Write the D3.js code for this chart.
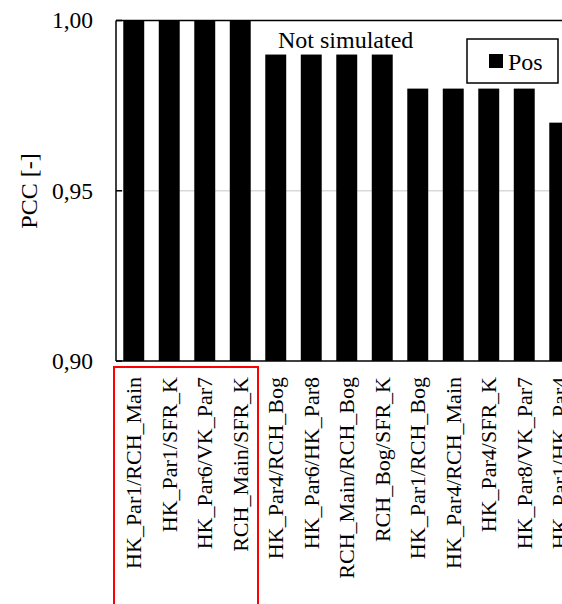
<!DOCTYPE html>
<html>
<head>
<meta charset="utf-8">
<script src="https://cdn.jsdelivr.net/npm/d3@7"></script>
<style>
  body { margin: 0; background: #fff; overflow: hidden; }
  text { font-family: "Liberation Serif", "Times New Roman", serif; fill: #000; }
</style>
</head>
<body>
<script>
const categories = ["HK_Par1/RCH_Main", "HK_Par1/SFR_K", "HK_Par6/VK_Par7", "RCH_Main/SFR_K",
    "HK_Par4/RCH_Bog", "HK_Par6/HK_Par8", "RCH_Main/RCH_Bog", "RCH_Bog/SFR_K",
    "HK_Par1/RCH_Bog", "HK_Par4/RCH_Main", "HK_Par4/SFR_K", "HK_Par8/VK_Par7", "HK_Par1/HK_Par4"]
const posValues = [1.00, 1.00, 1.00, 1.00, 0.99, 0.99, 0.99, 0.99, 0.98, 0.98, 0.98, 0.98, 0.97]
const yTicks = [0.90, 0.95, 1.00]

const margin = { top: 20.5, left: 116 }
const height = 340.5
const step = 35.5

const svg = d3.select('body')
    .append('svg')
    .attr('width', 562)
    .attr('height', 604)

const g = svg.append('g')
    .attr("transform", `translate(${margin.left},${margin.top})`)

// x scale runs past the right edge (chart is cropped)
const x = d3.scaleBand()
    .domain(categories)
    .range([0, step * categories.length])
    .paddingInner(0.41)
    .paddingOuter(0.205)

const y = d3.scaleLinear()
    .domain([0.90, 1.00])
    .range([height, 0])

// gridline
g.selectAll('.grid')
    .data(yTicks.filter(d => d > 0.90 && d < 1.00))
    .join('line')
    .attr('x1', 0).attr('x2', 600)
    .attr('y1', d => y(d)).attr('y2', d => y(d))
    .attr('stroke', '#d9d9d9')
    .attr('stroke-width', 1.5)

// bars
g.selectAll('.bar')
    .data(posValues)
    .join('rect')
    .attr('x', (d, i) => x(categories[i]))
    .attr('y', d => y(d))
    .attr('width', x.bandwidth())
    .attr('height', d => height - y(d))
    .attr('fill', '#000')

// frame: top line, left axis, bottom axis
g.append('line').attr('x1', 0).attr('x2', 600).attr('y1', 0).attr('y2', 0)
    .attr('stroke', '#000').attr('stroke-width', 1.5)
g.append('line').attr('x1', 0).attr('x2', 600).attr('y1', height).attr('y2', height)
    .attr('stroke', '#000').attr('stroke-width', 1.5)
g.append('line').attr('x1', 0).attr('x2', 0).attr('y1', 0).attr('y2', height)
    .attr('stroke', '#000').attr('stroke-width', 1.5)

// y ticks (inward) and labels
const yAxis = g.append('g')
yAxis.selectAll('line')
    .data(yTicks)
    .join('line')
    .attr('x1', 0).attr('x2', 6)
    .attr('y1', d => y(d)).attr('y2', d => y(d))
    .attr('stroke', '#000').attr('stroke-width', 1.5)
yAxis.selectAll('text')
    .data(yTicks)
    .join('text')
    .attr('x', -23)
    .attr('y', d => y(d))
    .attr('dy', '0.33em')
    .attr('text-anchor', 'end')
    .style('font-size', '23.5px')
    .text(d => d3.format('.2f')(d).replace('.', ','))

// category labels
g.selectAll('.lab')
    .data(categories)
    .join('text')
    .attr('transform', d => `translate(${x(d) + x.bandwidth() / 2},${height + 16}) rotate(-90)`)
    .attr('text-anchor', 'end')
    .attr('dy', '0.33em')
    .style('font-size', '22px')
    .text(d => d)

// red highlight box round the first four labels
svg.append('rect')
    .attr('x', 114).attr('y', 367)
    .attr('width', 144).attr('height', 260)
    .attr('fill', 'none')
    .attr('stroke', '#ff0000')
    .attr('stroke-width', 2)

// y title
svg.append('text')
    .attr('transform', 'translate(37,191) rotate(-90)')
    .attr('text-anchor', 'middle')
    .style('font-size', '24px')
    .text('PCC [-]')

// annotation
svg.append('text')
    .attr('x', 278).attr('y', 48)
    .style('font-size', '24px')
    .text('Not simulated')

// legend
svg.append('rect')
    .attr('x', 467).attr('y', 39).attr('width', 91).attr('height', 44)
    .attr('fill', '#fff').attr('stroke', '#000').attr('stroke-width', 1.5)
svg.append('rect')
    .attr('x', 489).attr('y', 54).attr('width', 14).attr('height', 14)
    .attr('fill', '#000')
svg.append('text')
    .attr('x', 508).attr('y', 70)
    .style('font-size', '24px')
    .text('Pos')
</script>
</body>
</html>
